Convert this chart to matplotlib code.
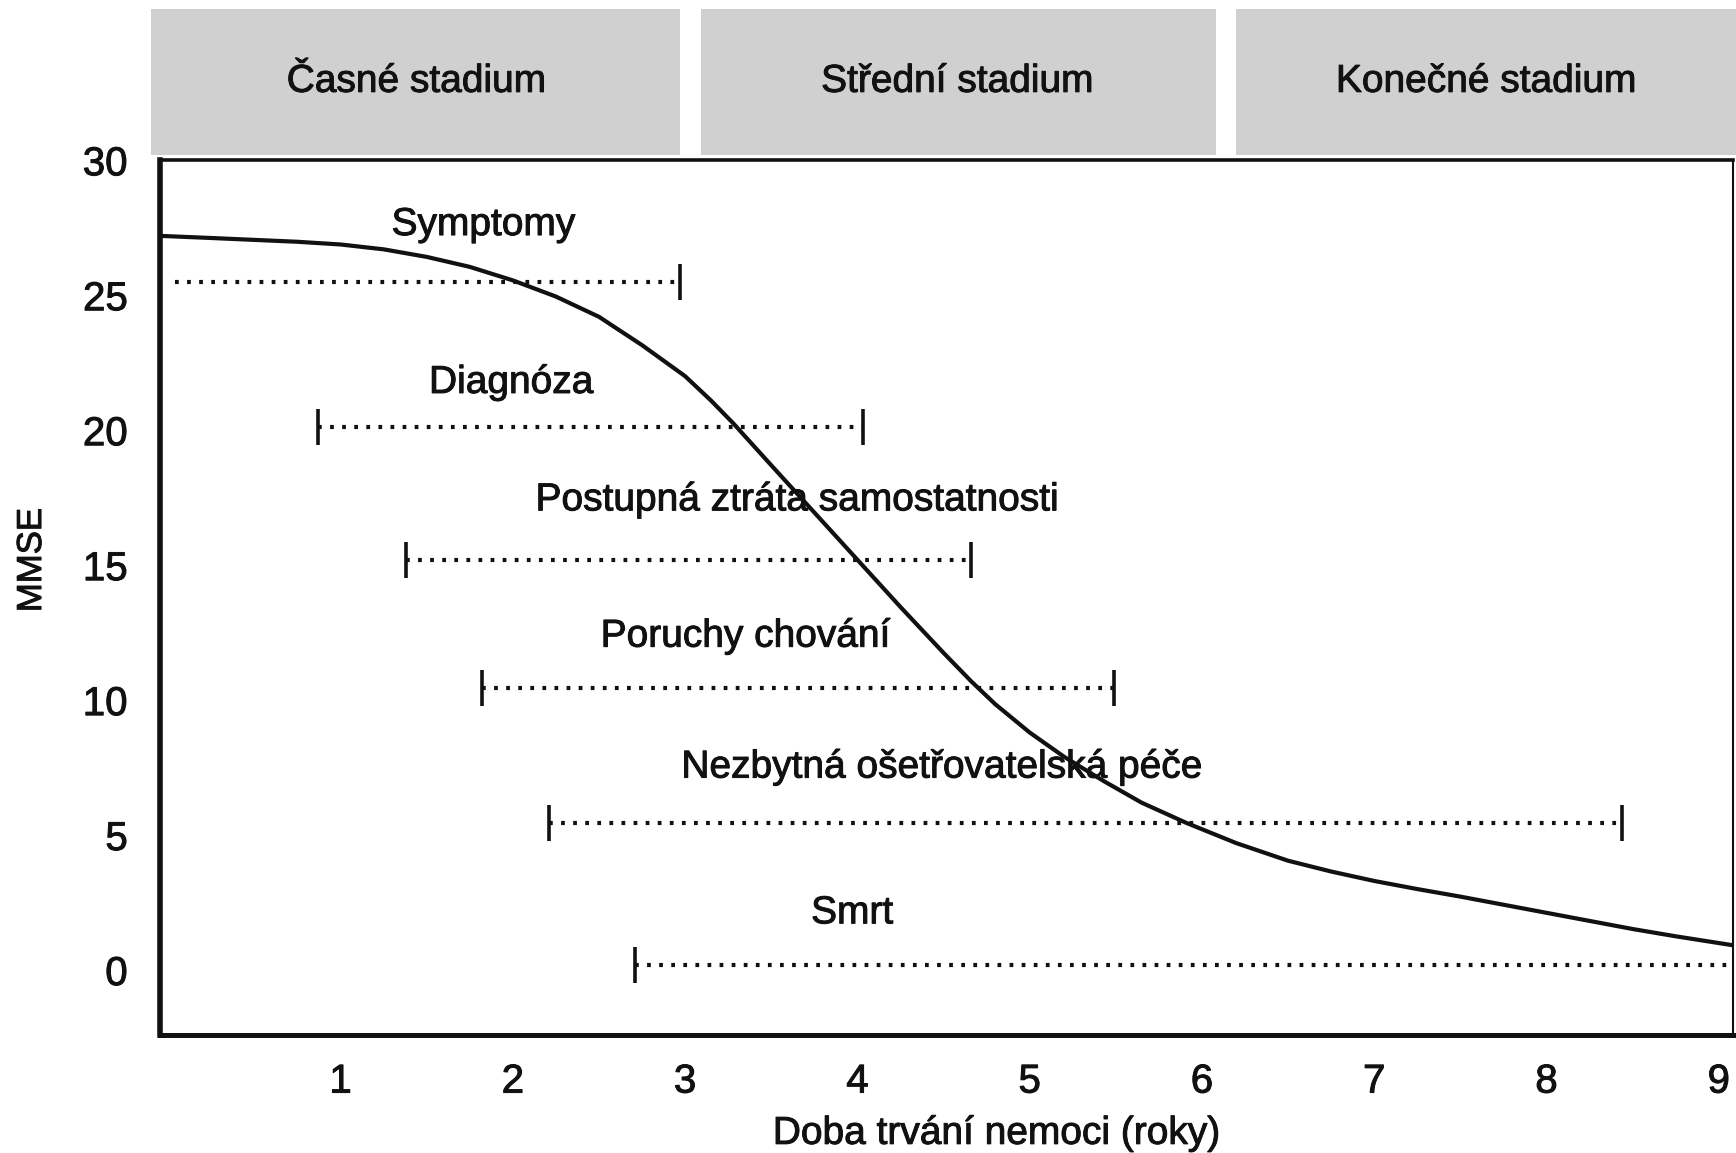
import matplotlib.pyplot as plt
import matplotlib.patheffects as pe

plt.rcParams['font.family'] = ['Liberation Sans', 'DejaVu Sans']

# MMSE curve
curve_x = [-0.05, 0.25, 0.5, 0.75, 1.0, 1.25, 1.5, 1.75, 2.0, 2.25, 2.5, 2.75,
           3.0, 3.15, 3.28, 3.5, 3.75, 4.0, 4.25, 4.5, 4.66, 4.8, 5.0, 5.2,
           5.43, 5.65, 5.91, 6.2, 6.5, 6.75, 7.0, 7.25, 7.5, 7.75, 8.0, 8.25,
           8.5, 8.75, 9.0, 9.08]
curve_y = [27.2, 27.12, 27.05, 26.98, 26.88, 26.7, 26.42, 26.05, 25.55, 24.95,
           24.2, 23.15, 22.0, 21.1, 20.25, 18.7, 16.95, 15.2, 13.45, 11.75,
           10.7, 9.85, 8.8, 7.9, 7.0, 6.2, 5.45, 4.7, 4.05, 3.65, 3.3, 3.0,
           2.72, 2.42, 2.12, 1.82, 1.52, 1.25, 1.0, 0.92]

# events: label, y level, start, end, caps, label position
ev_labels = ["Symptomy", "Diagnóza", "Postupná ztráta samostatnosti",
             "Poruchy chování", "Nezbytná ošetřovatelská péče", "Smrt"]
ev_y = [25.5, 20.1, 15.2, 10.45, 5.45, 0.2]
ev_start = [0.04, 0.87, 1.38, 1.82, 2.21, 2.71]
ev_end = [2.97, 4.03, 4.66, 5.49, 8.44, 9.1]
ev_cap_start = [False, True, True, True, True, True]
ev_cap_end = [True, True, True, True, True, False]
ev_text_x = [1.83, 1.99, 3.65, 3.35, 4.49, 3.97]
ev_text_y = [27.6, 21.75, 17.4, 12.35, 7.5, 2.1]

stages = ["Časné stadium", "Střední stadium", "Konečné stadium"]
stage_from = [-0.1, 3.09, 6.2]
stage_to = [2.97, 6.08, 9.2]
stage_text_x = [1.44, 4.58, 7.65]

ink = '#111111'
bold = [pe.withStroke(linewidth=0.7, foreground=ink)]

fig = plt.figure(figsize=(17.36, 11.53), dpi=100)
ax = fig.add_axes([0.092, 0.1025, 0.906, 0.7585])
ax.set_xlim(-0.05, 9.08)
ax.set_ylim(-2.4, 30)

ax.plot(curve_x, curve_y, color=ink, lw=3.0, solid_joinstyle='round')

for i in range(len(ev_labels)):
    ax.plot([ev_start[i], ev_end[i]], [ev_y[i], ev_y[i]], color=ink,
            lw=3.0, linestyle=(0, (0.9, 2.0)))
    if ev_cap_start[i]:
        ax.plot(ev_start[i], ev_y[i], marker='|', ms=26, mew=2.6, color=ink)
    if ev_cap_end[i]:
        ax.plot(ev_end[i], ev_y[i], marker='|', ms=26, mew=2.6, color=ink)
    ax.text(ev_text_x[i], ev_text_y[i], ev_labels[i], ha='center', va='center',
            fontsize=28, color=ink, path_effects=bold)

ax.set_xticks(range(1, 10))
ax.set_yticks(range(0, 31, 5))
ax.tick_params(length=0, labelsize=29, colors=ink)
ax.tick_params(axis='x', pad=20)
ax.tick_params(axis='y', pad=23)
for lab in ax.get_xticklabels() + ax.get_yticklabels():
    lab.set_path_effects(bold)
ax.set_xlabel("Doba trvání nemoci (roky)", fontsize=28, labelpad=11, color=ink,
              path_effects=bold)
ax.xaxis.label.set_x(0.532)
ax.set_ylabel("MMSE", fontsize=25, color=ink, path_effects=bold)
ax.yaxis.set_label_coords(-0.071, 0.543)
ax.spines['left'].set_linewidth(4)
ax.spines['bottom'].set_linewidth(3.6)
ax.spines['top'].set_linewidth(2.6)
ax.spines['right'].set_linewidth(1.5)
for s in ax.spines.values():
    s.set_color(ink)

# stage bands above the plot
top = fig.add_axes([0.092, 0.866, 0.906, 0.126], sharex=ax)
top.set_ylim(0, 1)
top.axis('off')
for i in range(len(stages)):
    top.axvspan(stage_from[i], stage_to[i], color='#d0d0d0', lw=0, clip_on=False)
    top.text(stage_text_x[i], 0.5, stages[i], ha='center', va='center',
             fontsize=28, color=ink, path_effects=bold)
ax.set_xlim(-0.05, 9.08)

fig.savefig("out.png", dpi=100)
